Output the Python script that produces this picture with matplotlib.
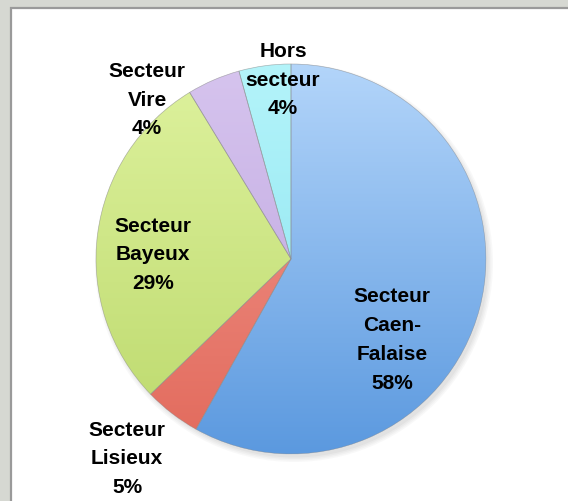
import numpy as np
import matplotlib.pyplot as plt
from matplotlib.colors import LinearSegmentedColormap
from matplotlib.patches import Rectangle, Circle, Wedge

# parts of the total, clockwise from 12 o'clock
sectors = ["Secteur\nCaen-\nFalaise", "Secteur\nLisieux", "Secteur\nBayeux",
           "Secteur\nVire", "Hors\nsecteur"]
values = [58.1, 4.7, 28.5, 4.4, 4.3]
shown_pct = ["58%", "5%", "29%", "4%", "4%"]

# light (top) -> dark (bottom) for the Excel-like gradient fill
tops = ["#b3d5fa", "#f29a90", "#def29e", "#d6c4ee", "#b4f4fa"]
bottoms = ["#5b99df", "#e26a5c", "#bcd96c", "#bca2de", "#86e2ef"]

W, H = 568, 502
fig = plt.figure(figsize=(W / 100, H / 100), dpi=100)
fig.patch.set_facecolor("#d6d8d2")
ax = fig.add_axes([0, 0, 1, 1])
ax.set_axis_off()

# white panel with grey edge
ax.add_patch(Rectangle((11, -5), W, H - 9 + 5, facecolor="white",
                       edgecolor="#9a9a9a", lw=1.6, zorder=0))

cx, cy, r = 291, H - 260, 195

# soft shadow under the pie
for k, a in enumerate([0.05, 0.05, 0.06, 0.07]):
    ax.add_patch(Circle((cx + 3, cy - 4), r + 4 - k * 1.5, color="#808080",
                        alpha=a, lw=0, zorder=1))

wedges, _ = ax.pie(values, startangle=90, counterclock=False,
                   center=(cx, cy), radius=r, colors=bottoms,
                   wedgeprops=dict(edgecolor="#ffffff", linewidth=0.6))
for w in wedges:
    w.set_zorder(2)

grad = np.linspace(0, 1, 256).reshape(-1, 1)
for w, c0, c1 in zip(wedges, tops, bottoms):
    cm = LinearSegmentedColormap.from_list("g", [c1, c0])
    im = ax.imshow(grad, cmap=cm, extent=[cx - r, cx + r, cy - r, cy + r],
                   origin="lower", aspect="auto", zorder=3)
    im.set_clip_path(w)
    ax.add_patch(Wedge(w.center, w.r, w.theta1, w.theta2, facecolor="none",
                       edgecolor="#8a8a8a", lw=0.5, alpha=0.6, zorder=4))

# label centres (pixel positions measured on the reference)
label_xy = [(392, 340), (127, 459), (153, 255), (147, 100), (283, 80)]
for name, pct, (px, py) in zip(sectors, shown_pct, label_xy):
    ax.text(px, H - py, name + "\n" + pct, ha="center", va="center",
            fontsize=15, fontweight="bold", family="Liberation Sans",
            linespacing=1.66, color="black", zorder=5)

ax.set_xlim(0, W)
ax.set_ylim(0, H)
fig.savefig("out.png", dpi=100, facecolor=fig.get_facecolor())
